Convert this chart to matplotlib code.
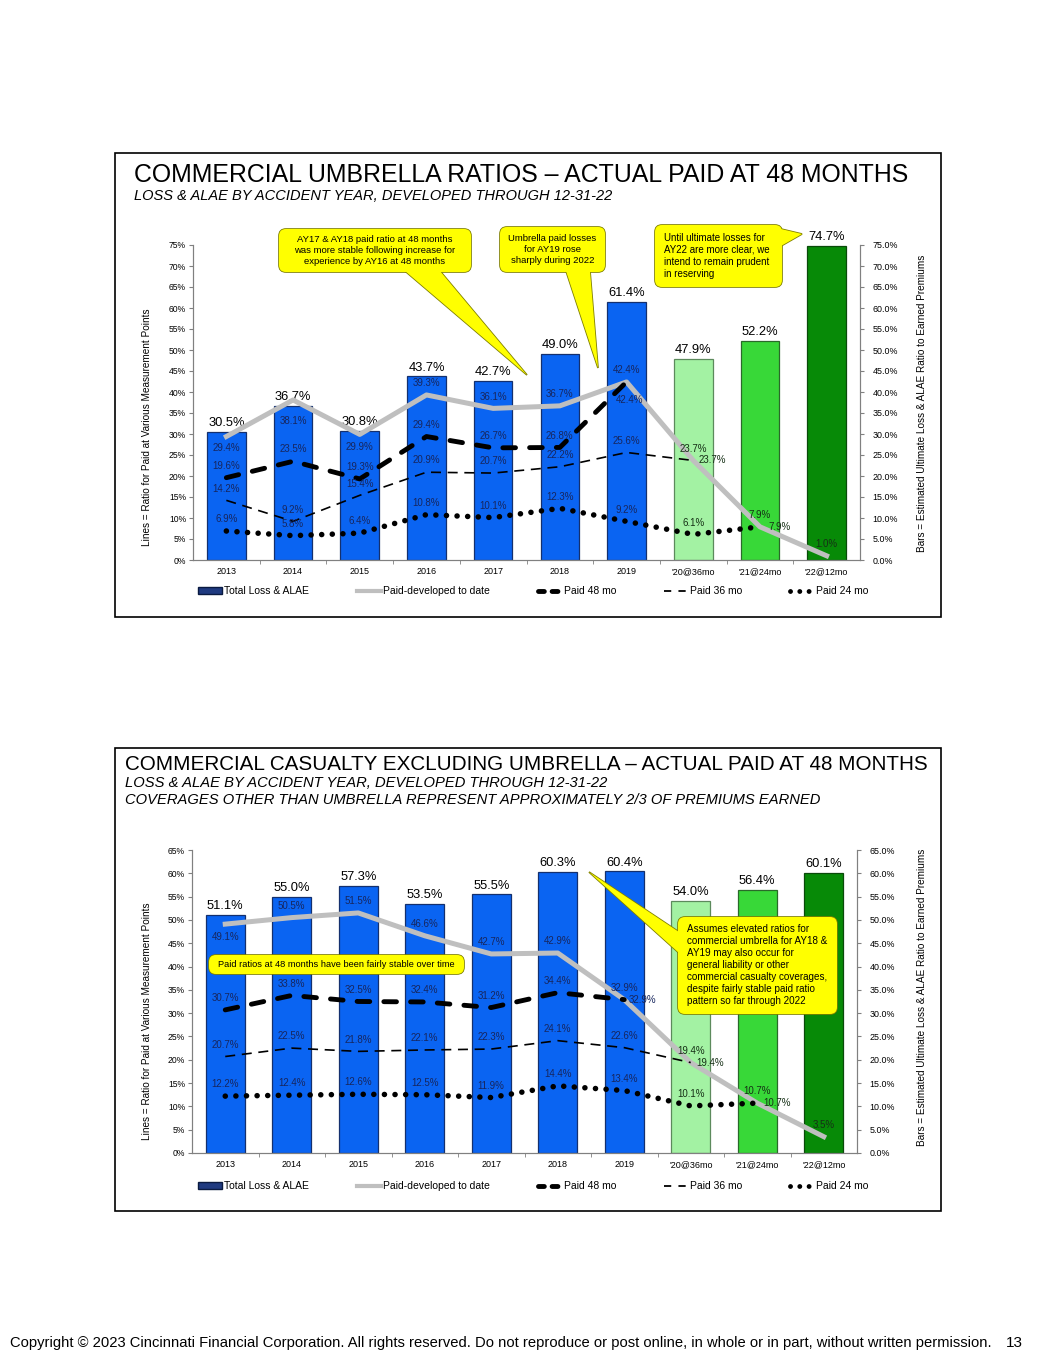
import numpy as np
import matplotlib
matplotlib.use("Agg")
import matplotlib.pyplot as plt
from matplotlib import font_manager
from matplotlib.patches import Rectangle, FancyBboxPatch, Polygon, Patch
from matplotlib.lines import Line2D
from matplotlib.ticker import FuncFormatter, MultipleLocator

# Data
categories = ["2013", "2014", "2015", "2016", "2017", "2018", "2019",
              "'20@36mo", "'21@24mo", "'22@12mo"]

umb_total = [30.5, 36.7, 30.8, 43.7, 42.7, 49.0, 61.4, 47.9, 52.2, 74.7]
umb_paid_to_date = [29.4, 38.1, 29.9, 39.3, 36.1, 36.7, 42.4, 23.7, 7.9, 1.0]
umb_paid_48 = [19.6, 23.5, 19.3, 29.4, 26.7, 26.8, 42.4]
umb_paid_36 = [14.2, 9.2, 15.4, 20.9, 20.7, 22.2, 25.6, 23.7]
umb_paid_24 = [6.9, 5.8, 6.4, 10.8, 10.1, 12.3, 9.2, 6.1, 7.9]

cas_total = [51.1, 55.0, 57.3, 53.5, 55.5, 60.3, 60.4, 54.0, 56.4, 60.1]
cas_paid_to_date = [49.1, 50.5, 51.5, 46.6, 42.7, 42.9, 32.9, 19.4, 10.7, 3.5]
cas_paid_48 = [30.7, 33.8, 32.5, 32.4, 31.2, 34.4, 32.9]
cas_paid_36 = [20.7, 22.5, 21.8, 22.1, 22.3, 24.1, 22.6, 19.4]
cas_paid_24 = [12.2, 12.4, 12.6, 12.5, 11.9, 14.4, 13.4, 10.1, 10.7]

legend_labels = ["Total Loss & ALAE", "Paid-developed to date", "Paid 48 mo",
                 "Paid 36 mo", "Paid 24 mo"]

# Page size in pixels (dpi 100)
W, H = 1055, 1365
BLUE = "#0A64F2"
bar_colors = [BLUE] * 7 + ["#A3F2A3", "#38D838", "#078A07"]
bar_edges = ["#14306E"] * 7 + ["#5C8A5C", "#2A6A2A", "#0A4A0A"]
text_colors = ["#17265E"] * 7 + ["#163016"] * 3

plt.rcParams["font.family"] = ["Liberation Sans", "DejaVu Sans"]
installed = {f.name for f in font_manager.fontManager.ttflist}
if "Liberation Sans Narrow" in installed:
    title_font = ["Liberation Sans Narrow", "Liberation Sans"]
else:
    title_font = ["Liberation Sans", "DejaVu Sans"]

fig = plt.figure(figsize=(W / 100, H / 100), dpi=100)
tr = fig.dpi_scale_trans


def px(x, y):
    # pixel position (top-left origin) -> inches for dpi_scale_trans
    return (x / 100, (H - y) / 100)


def frac_axes(left, top, right, bottom):
    return [left / W, 1 - bottom / H, (right - left) / W, (bottom - top) / H]


def draw_panel(ax, total, dev, p48, p36, p24, ymax, moves):
    x = np.arange(len(categories))
    ax.bar(x, total, width=0.58, color=bar_colors, edgecolor=bar_edges,
           linewidth=0.9, zorder=2)
    for xi, v in zip(x, total):
        ax.annotate(f"{v:.1f}%", (xi, v), xytext=(0, 2), textcoords="offset points",
                    ha="center", va="bottom", fontsize=9.3, color="black")

    ax.plot(x[:len(dev)], dev, color="#BFBFBF", lw=3.6, zorder=3)
    ax.plot(x[:len(p48)], p48, color="black", lw=3.5, dashes=(2.6, 2.9),
            dash_capstyle="round", zorder=4)
    ax.plot(x[:len(p36)], p36, color="black", lw=1.2, dashes=(6, 4), zorder=4)
    ax.plot(x[:len(p24)], p24, color="black", lw=4, dashes=(0.01, 1.9),
            dash_capstyle="round", zorder=4)

    # Point labels
    series = {"dev": dev, "48": p48, "36": p36, "24": p24}
    for key, vals in series.items():
        for i, v in enumerate(vals):
            dx, dy = moves.get((key, i), (0, 8.5))
            ax.annotate(f"{v:.1f}%", (i, v), xytext=(dx, dy), textcoords="offset points",
                        ha="center", va="center", fontsize=7, color=text_colors[i],
                        zorder=5)

    ax.set_xlim(-0.5, len(categories) - 0.5)
    ax.set_ylim(0, ymax)
    ax.yaxis.set_major_locator(MultipleLocator(5))
    ax.yaxis.set_major_formatter(FuncFormatter(lambda v, p: f"{v:.0f}%"))
    ax.set_xticks(x, categories)
    ax.set_xticks(x[:-1] + 0.5, minor=True)
    ax.tick_params(axis="x", which="major", length=0, labelsize=6.5, pad=5)
    ax.tick_params(axis="x", which="minor", length=3, color="#808080")
    ax.tick_params(axis="y", labelsize=6.2, length=3, color="#808080", pad=2)
    ax.spines["top"].set_visible(False)
    for s in ["left", "right", "bottom"]:
        ax.spines[s].set_color("#808080")

    ax2 = ax.twinx()
    ax2.set_ylim(0, ymax)
    ax2.yaxis.set_major_locator(MultipleLocator(5))
    ax2.yaxis.set_major_formatter(FuncFormatter(lambda v, p: f"{v:.1f}%"))
    ax2.tick_params(axis="y", labelsize=6.4, length=3, color="#808080", pad=6)
    ax2.spines["top"].set_visible(False)
    for s in ["left", "right", "bottom"]:
        ax2.spines[s].set_color("#808080")


def add_legend(y):
    handles = [
        Patch(facecolor="#1F3A80", edgecolor="#0A1A40"),
        Line2D([], [], color="#BFBFBF", lw=3),
        Line2D([], [], color="black", lw=3.5, dashes=(1.2, 1.6), dash_capstyle="round"),
        Line2D([], [], color="black", lw=1.3, dashes=(4, 4)),
        Line2D([], [], color="black", lw=3.5, dashes=(0.01, 1.9), dash_capstyle="round"),
    ]
    fig.legend(handles, legend_labels, loc="center left", bbox_to_anchor=px(193, y),
               bbox_transform=tr, ncol=5, frameon=False, fontsize=7.5,
               handlelength=2.3, handletextpad=0.2, columnspacing=4.6, borderpad=0,
               handleheight=0.6)


def callout(box, wedge, text, align="center", fs=6.8):
    x0, y0, x1, y1 = box
    pts = [px(*p) for p in wedge]
    for edge, z in (("#7F7F00", 6), ("none", 7)):
        fig.add_artist(FancyBboxPatch(px(x0, y1), (x1 - x0) / 100, (y1 - y0) / 100,
                                      boxstyle="round,pad=0,rounding_size=0.07",
                                      fc="#FFFF00", ec=edge, lw=1.2, transform=tr, zorder=z))
        if pts:
            fig.add_artist(Polygon(pts, closed=True, fc="#FFFF00", ec=edge, lw=1.2,
                                   transform=tr, zorder=z))
    tx = (x0 + x1) / 2 if align == "center" else x0 + 9
    fig.text(*px(tx, (y0 + y1) / 2), text, ha=align, va="center", fontsize=fs,
             linespacing=1.25, transform=tr, zorder=8)


# Panel frames
for top, bottom in [(153, 617), (748, 1211)]:
    fig.add_artist(Rectangle(px(115, bottom), 8.26, (bottom - top) / 100, fill=False,
                             ec="black", lw=1.2, transform=tr, zorder=1))

# Titles and footer (fitted to the reference widths)
titles = [
    ("COMMERCIAL UMBRELLA RATIOS \u2013 ACTUAL PAID AT 48 MONTHS", 134, 175, 777, "normal", 20),
    ("LOSS & ALAE BY ACCIDENT YEAR, DEVELOPED THROUGH 12-31-22", 134, 196, 478, "italic", 10),
    ("COMMERCIAL CASUALTY EXCLUDING UMBRELLA \u2013 ACTUAL PAID AT 48 MONTHS", 125, 765, 801, "normal", 16),
    ("LOSS & ALAE BY ACCIDENT YEAR, DEVELOPED THROUGH 12-31-22", 125, 783, 482, "italic", 10),
    ("COVERAGES OTHER THAN UMBRELLA REPRESENT APPROXIMATELY 2/3 OF PREMIUMS EARNED", 125, 800, 691, "italic", 10),
]
fitted = []
for txt, x, y, width, style, size in titles:
    t = fig.text(*px(x, y), txt, ha="left", va="center", fontsize=size, style=style,
                 family=title_font, transform=tr)
    fitted.append((t, width))

footer = fig.text(*px(10, 1343), "Copyright \u00a9 2023 Cincinnati Financial Corporation. "
                  "All rights reserved. Do not reproduce or post online, in whole or in part, "
                  "without written permission.",
                  ha="left", va="center", fontsize=10, transform=tr)
fitted.append((footer, 978))
fig.text(*px(1023, 1343), "13", ha="right", va="center", fontsize=11, transform=tr)

# Chart 1
ax_u = fig.add_axes(frac_axes(193, 245, 860, 560))
umb_moves = {("dev", 0): (0, -8), ("dev", 1): (0, -15), ("dev", 2): (0, -9),
             ("48", 6): (2, -13), ("36", 7): (14, 0), ("24", 8): (14, 0)}
draw_panel(ax_u, umb_total, umb_paid_to_date, umb_paid_48, umb_paid_36, umb_paid_24,
           75, umb_moves)
add_legend(591)
fig.text(*px(147, 427), "Lines = Ratio for Paid at Various Measurement Points", rotation=90,
         ha="center", va="center", fontsize=7.2, transform=tr)
fig.text(*px(922, 403), "Bars = Estimated Ultimate Loss & ALAE Ratio to Earned Premiums",
         rotation=90, ha="center", va="center", fontsize=7.2, transform=tr)

callout((279, 229, 471, 272), [(405, 271), (527, 375), (440, 271)],
        "AY17 & AY18 paid ratio at 48 months\nwas more stable following increase for\nexperience by AY16 at 48 months")
callout((500, 227, 605, 272), [(566, 271), (598, 368), (590, 271)],
        "Umbrella paid losses\nfor AY19 rose\nsharply during 2022")
callout((655, 225, 782, 287), [(781, 229), (802, 234), (781, 246)],
        "Until ultimate losses for\nAY22 are more clear, we\nintend to remain prudent\nin reserving",
        align="left", fs=7)

# Chart 2
ax_c = fig.add_axes(frac_axes(192, 850, 857, 1153))
cas_moves = {("dev", 0): (0, -9.5), ("48", 6): (13, 0), ("36", 7): (14, 0),
             ("24", 8): (14, 0)}
draw_panel(ax_c, cas_total, cas_paid_to_date, cas_paid_48, cas_paid_36, cas_paid_24,
           65, cas_moves)
add_legend(1186)
fig.text(*px(147, 1021), "Lines = Ratio for Paid at Various Measurement Points", rotation=90,
         ha="center", va="center", fontsize=7.2, transform=tr)
fig.text(*px(922, 997), "Bars = Estimated Ultimate Loss & ALAE Ratio to Earned Premiums",
         rotation=90, ha="center", va="center", fontsize=7.2, transform=tr)

callout((209, 955, 464, 974), [], "Paid ratios at 48 months have been fairly stable over time",
        fs=6.7)
callout((678, 917, 837, 1014), [(679, 932), (589, 872), (679, 953)],
        "Assumes elevated ratios for\ncommercial umbrella for AY18 &\nAY19 may also occur for\n"
        "general liability or other\ncommercial casualty coverages,\ndespite fairly stable paid ratio\n"
        "pattern so far through 2022",
        align="left", fs=7.1)

# Fit text widths
fig.canvas.draw()
renderer = fig.canvas.get_renderer()
for t, width in fitted:
    w = t.get_window_extent(renderer).width
    t.set_fontsize(t.get_fontsize() * width / w)

fig.savefig("out.png", dpi=100)
